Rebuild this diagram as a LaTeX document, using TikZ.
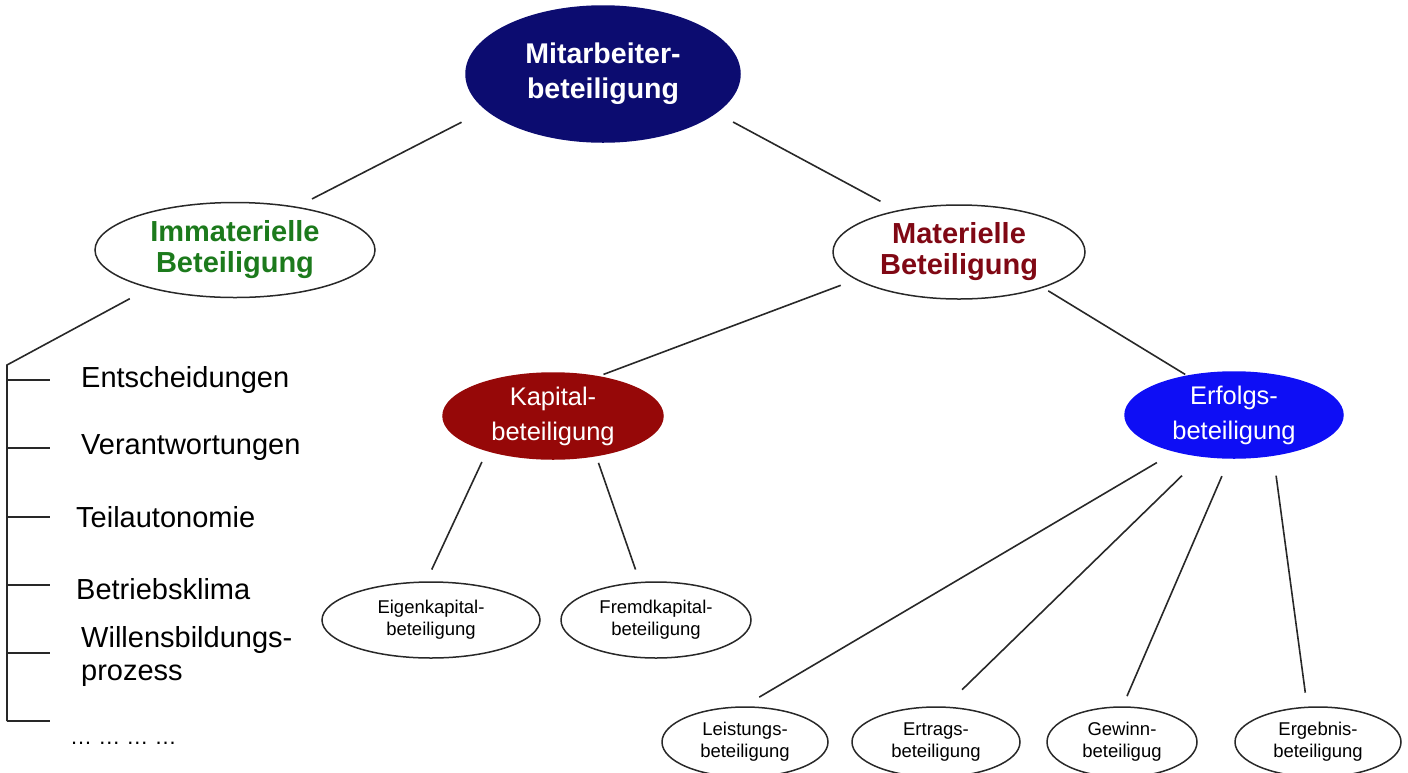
\documentclass[tikz,border=0pt]{standalone}
\usepackage{fontspec}
\setmainfont{Liberation Sans}
\usetikzlibrary{shapes.geometric}

\definecolor{topnavy}{RGB}{12,12,112}
\definecolor{kapred}{RGB}{150,8,8}
\definecolor{erfblue}{RGB}{14,14,245}
\definecolor{immgreen}{RGB}{28,122,28}
\definecolor{matred}{RGB}{128,8,20}
\definecolor{linegray}{RGB}{40,40,40}

\begin{document}
\begin{tikzpicture}[x=1pt,y=-1pt,
    oval/.style={ellipse, draw=linegray, line width=1.5pt, inner sep=0pt, align=center},
    link/.style={draw=linegray, line width=1.6pt},
    bigtext/.style={font=\fontsize{28.5}{35}\selectfont\bfseries},
    midtext/.style={font=\fontsize{25.5}{35}\selectfont},
    smalltext/.style={font=\fontsize{18.5}{22}\selectfont},
    listtext/.style={anchor=west, inner sep=0pt, align=left, font=\fontsize{29}{33}\selectfont}]
                    \useasboundingbox (0,0) rectangle (1408,772);

                    \node[oval, bigtext, fill=topnavy, draw=topnavy, text=white, minimum width=274pt, minimum height=136pt] (top) at (603,74) {Mitarbeiter-\\beteiligung};

                    \node[oval, text=immgreen, minimum width=280pt, minimum height=95pt, font=\fontsize{29}{31}\selectfont\bfseries] (immat) at (235,250) {Immaterielle\\Beteiligung};
                    \node[oval, text=matred, minimum width=252pt, minimum height=94pt, font=\fontsize{29}{31}\selectfont\bfseries] (mat) at (959,252) {Materielle\\Beteiligung};
                    \draw[link, shorten <=27pt, shorten >=17pt] (top.197) -- (immat.35);
                    \draw[link, shorten <=19pt, shorten >=19pt] (top.341) -- (mat.146);

                    \node[oval, midtext, fill=kapred, draw=kapred, text=white, minimum width=220pt, minimum height=86pt] (kap) at (553,416) {Kapital-\\beteiligung};
                    \node[oval, midtext, fill=erfblue, draw=erfblue, text=white, minimum width=218pt, minimum height=86pt] (erf) at (1234,415) {Erfolgs-\\beteiligung};
                    \draw[link, shorten <=16pt, shorten >=5pt] (mat.195) -- (kap.41);
                    \draw[link, shorten <=6pt, shorten >=2pt] (mat.337) -- (erf.140);

                    \node[oval, smalltext, minimum width=218pt, minimum height=76pt] (eigen) at (431,620) {Eigenkapital-\\beteiligung};
                    \node[oval, smalltext, minimum width=190pt, minimum height=76pt] (fremd) at (656,620) {Fremdkapital-\\beteiligung};
                    \draw[link, shorten <=12pt, shorten >=13pt] (kap.208) -- (eigen.97);
                    \draw[link, shorten <=7pt, shorten >=13pt] (kap.317) -- (fremd.113);

                    \node[oval, smalltext, minimum width=166pt, minimum height=70pt] (leist) at (745,742) {Leistungs-\\beteiligung};
                    \node[oval, smalltext, minimum width=168pt, minimum height=70pt] (ertrag) at (936,742) {Ertrags-\\beteiligung};
                    \node[oval, smalltext, minimum width=150pt, minimum height=70pt] (gewinn) at (1122,742) {Gewinn-\\beteiligug};
                    \node[oval, smalltext, minimum width=166pt, minimum height=70pt] (ergeb) at (1318,742) {Ergebnis-\\beteiligung};
                    \draw[link, shorten <=21pt, shorten >=18pt] (erf.212) -- (leist.92);
                    \draw[link, shorten <=27pt, shorten >=24pt] (erf.232) -- (ertrag.76);
                    \draw[link, shorten <=19pt, shorten >=11pt] (erf.264) -- (gewinn.89);
                    \draw[link, shorten <=20pt, shorten >=14pt] (erf.314) -- (ergeb.107);

                    \coordinate (spinetop) at (7,365);
                    \foreach \y [count=\i] in {380,448,517,585,653,721} {
                        \coordinate (spine\i) at (7,\y);
                        \draw[link] (spine\i) -- ++(43,0);
                    }
                    \draw[link, shorten <=22pt] (immat.204) -- (spinetop) -- (spine6);

                    \node[listtext] (ent) at (81,380) {Entscheidungen};
                    \node[listtext] (ver) at (81,448) {Verantwortungen};
                    \node[listtext] (teil) at (76,517) {Teilautonomie};
                    \node[listtext] (klima) at (76,589) {Betriebsklima};
                    \node[listtext] (will) at (81,656) {Willensbildungs-\\prozess};
                    \node[listtext, font=\fontsize{22}{26}\selectfont] (dots) at (70,743) {\dots\ \dots\ \dots\ \dots};

                \end{tikzpicture}
\end{document}
